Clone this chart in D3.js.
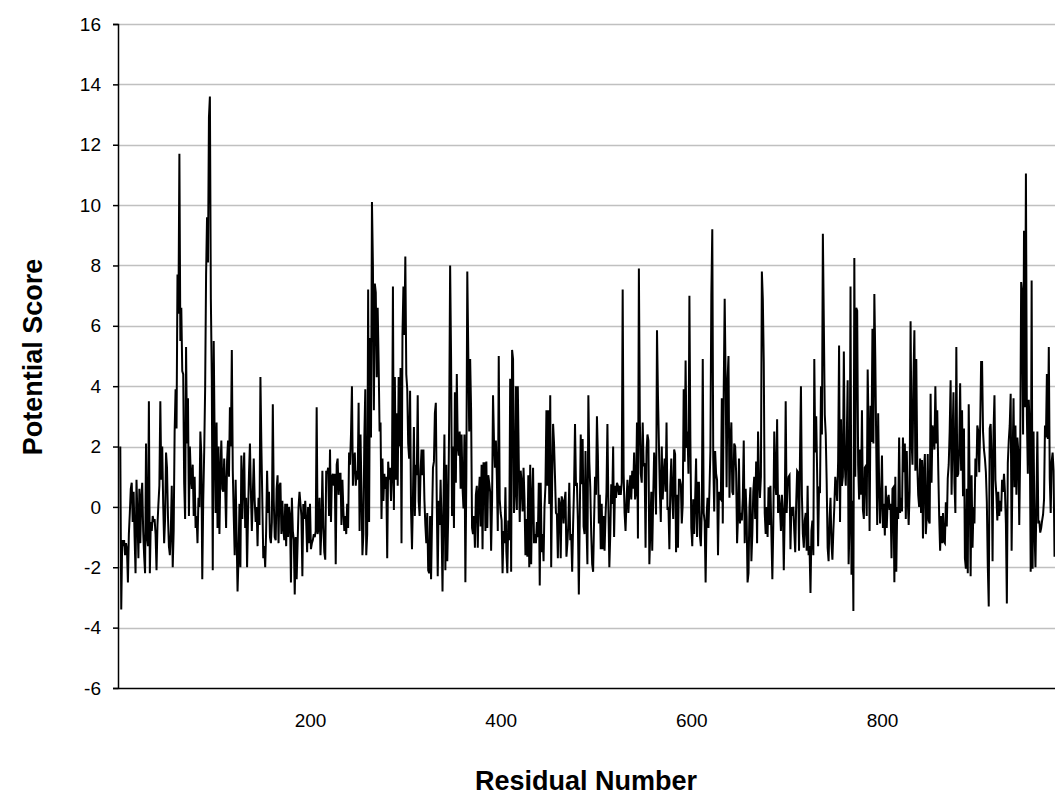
<!DOCTYPE html>
<html><head><meta charset="utf-8">
<script src="https://cdn.jsdelivr.net/npm/d3@7"></script>
<style>
body{margin:0;background:#fff;}
text{font-family:"Liberation Sans",Arial,sans-serif;fill:#000;}
</style>
</head><body>
<svg id="chart" width="1055" height="795"></svg>
<script>
// Potential score per residue, residues numbered from 1
const scores = [
2.0,-3.4,-1.1,-1.3,-1.1,-1.6,-1.2,-1.4,-2.5,-0.9,-0.2,0.6,0.8,-0.5,0.5,-1.0,-2.2,0.9,-0.3,-1.7,
0.6,-1.2,0.3,0.8,-0.8,-1.6,-2.2,2.1,-1.0,-1.3,3.5,-2.2,-0.5,-0.8,-0.3,-0.5,-0.4,-0.9,-2.1,-0.6,
0.1,0.7,3.5,0.9,2.0,0.1,-1.2,-0.4,1.8,1.3,-0.3,-1.3,-1.6,-0.8,0.7,-2.0,-0.8,2.5,3.9,2.6,
7.7,6.4,11.7,5.5,6.6,4.5,4.4,0.8,-0.4,5.3,2.1,3.6,-0.3,2.0,1.0,0.6,1.4,-0.3,1.0,
-0.7,-0.3,-1.2,0.3,0.0,2.5,1.7,-2.4,0.2,1.8,3.9,7.7,9.6,8.1,12.9,13.6,6.9,4.2,-2.1,5.5,
2.1,-0.2,2.8,-0.7,2.0,-0.9,1.2,2.2,0.6,0.5,1.6,0.7,-0.7,1.5,2.2,1.0,3.3,2.0,5.2,1.2,
-0.3,-1.6,0.9,-0.9,-2.8,-1.7,0.1,-2.0,1.7,-0.4,0.9,1.8,-0.7,0.3,-2.0,-0.3,1.1,2.1,0.5,-0.8,
0.4,1.6,0.2,-0.5,0.0,-1.3,0.3,-0.6,4.3,2.0,0.2,-1.7,-1.3,-2.0,-0.8,1.2,-0.2,0.5,-1.0,-1.2,
-0.5,3.4,0.2,-1.0,
-1.1,0.6,1.05,-1.2,0.7,0.8,-0.9,0.2,-0.7,-1.1,0.1,-1.3,0.1,-1.0,0.0,-0.3,-2.5,0.3,-0.8,-1.1,
-2.9,-1.0,-2.4,-1.2,0.0,0.5,0.1,-0.3,-2.3,0.1,-0.4,0.2,-0.5,-1.5,0.0,-1.2,0.1,-1.4,-1.2,-1.1,
-0.9,-1.0,-0.8,3.3,-0.9,-0.7,0.3,-1.6,-0.7,1.2,-0.6,-1.5,-1.75,1.2,1.1,1.3,-0.3,1.9,-0.5,1.0,
1.1,0.7,1.1,-1.9,1.4,1.6,0.4,1.1,1.1,-0.6,0.9,-0.1,-0.8,-0.3,-0.9,0.1,-0.7,1.8,1.4,2.4,
4.0,0.7,1.5,1.8,
0.7,1.2,0.9,3.45,-0.8,2.4,0.5,-1.6,-0.9,2.3,3.9,-1.6,-0.9,7.2,-0.5,5.6,2.3,10.1,8.0,3.2,
7.4,7.1,4.3,6.6,4.8,2.5,2.8,-0.4,1.6,0.2,1.1,0.6,1.0,-1.7,1.5,0.9,1.3,0.2,1.0,7.3,
-0.1,4.3,0.9,3.1,0.7,4.3,2.0,4.6,-1.2,5.7,7.3,5.7,8.3,4.4,3.9,2.1,1.6,3.85,-0.1,-1.4,
0.3,2.65,-0.3,1.4,1.05,3.7,0.2,-0.3,1.2,1.9,1.05,1.9,0.25,-0.6,-1.2,-0.2,-2.1,-2.2,-0.3,-2.4,
-0.5,1.3,1.5,3.1,
3.45,0.1,-2.3,0.2,-0.6,0.9,-0.6,-2.8,0.0,2.4,-2.1,1.4,-1.8,-0.3,2.9,8.0,4.9,-0.3,2.0,-0.7,
3.8,0.8,4.4,2.0,1.7,2.5,0.6,2.4,0.65,-0.05,2.4,-2.5,1.0,7.8,5.2,2.5,4.9,3.2,-0.7,-0.9,
-0.3,-1.35,0.4,0.7,-1.35,0.4,1.0,-0.65,1.4,-1.4,1.45,1.45,-0.8,1.5,-0.7,1.05,0.8,0.5,-1.45,0.2,
3.7,2.2,1.3,2.2,1.0,-0.8,5.0,0.25,-0.2,-0.45,-2.2,-0.8,-1.2,0.65,-1.5,-2.2,-0.45,-1.1,4.25,-2.15,
5.2,4.9,-0.2,0.5,
4.0,-0.1,4.0,1.5,-0.5,1.2,0.8,-0.15,1.3,0.25,-1.6,-0.4,-1.65,1.05,-2.0,1.4,-1.9,0.25,1.3,-1.2,
-0.9,-1.2,-0.5,-1.0,0.8,-2.6,0.8,-1.5,-0.9,-1.8,0.0,0.7,3.2,0.7,3.2,0.1,3.7,-2.0,0.8,2.75,
2.1,1.0,-0.2,-0.25,-1.7,0.3,0.1,-1.7,0.35,0.2,-0.55,0.2,0.5,-1.65,-1.2,-0.55,0.8,-1.1,-0.9,-2.15,
-0.6,0.65,2.75,0.7,0.8,-0.45,-2.9,-0.3,2.4,0.75,2.25,-0.65,-0.9,1.85,-0.55,-1.9,3.7,1.5,0.65,-0.9,
-1.9,-2.15,-0.45,1.0,
0.4,3.0,1.7,-0.55,0.4,-1.4,0.1,-1.4,-0.3,-1.45,-0.3,0.5,2.75,0.1,-2.0,-0.9,0.75,0.1,2.0,-1.0,
0.7,0.3,0.8,0.7,0.4,0.7,0.4,0.8,7.2,1.1,-0.2,-0.8,0.2,0.9,-0.2,0.5,1.05,0.25,1.2,0.6,
1.8,0.25,0.5,2.8,-1.05,7.9,2.9,1.1,0.8,2.8,1.35,1.45,-1.35,1.85,2.4,2.2,-1.9,-0.8,0.5,-1.45,
0.25,1.8,1.1,-0.25,5.85,3.7,2.1,0.5,-0.5,2.0,0.25,1.05,1.6,0.5,2.8,-0.1,0.0,-1.4,0.7,1.6,
0.3,-0.4,1.9,
1.75,-1.5,0.4,-1.35,0.9,0.9,0.75,-0.55,0.1,3.9,1.5,4.85,1.95,2.5,1.1,7.0,2.3,-0.7,-1.3,0.25,
-0.9,0.25,1.6,-1.0,0.8,0.8,-0.95,-1.3,-0.1,4.9,-0.2,-0.5,-2.5,-0.3,0.3,-0.7,0.5,1.85,7.0,9.2,
1.6,-0.15,1.85,1.1,0.9,-1.6,0.5,0.3,0.25,3.6,-0.55,3.9,6.9,4.2,0.65,4.2,5.0,0.3,2.1,2.8,
0.5,0.4,2.1,2.0,1.15,-1.2,-0.3,1.6,-0.55,-0.2,-0.45,0.3,2.2,-1.2,0.6,-0.3,-2.5,-2.2,0.0,0.65,
-1.8,-0.9,0.5,1.0,
-0.4,1.5,-1.2,2.5,1.0,0.3,1.0,7.8,6.9,4.8,-0.2,-0.9,0.0,-1.0,0.65,-0.6,0.7,-0.9,-2.4,-0.6,
2.5,0.9,0.4,2.9,-0.2,0.4,-0.05,-0.8,0.4,-0.1,-2.1,-0.15,3.5,-0.2,0.7,1.0,1.05,-1.4,0.0,-0.3,
0.0,-0.8,-1.5,0.1,1.2,1.15,-1.45,1.7,4.0,0.4,-0.9,-1.35,-0.45,-0.2,-1.45,0.7,-1.6,-1.3,-2.85,-0.8,
-0.45,-1.6,4.9,1.8,3.0,1.1,-1.3,0.6,0.55,4.0,2.4,9.05,6.1,3.05,2.4,0.8,-1.35,-1.8,-0.4,0.3,
-1.2,-1.75,-0.8,0.0,
1.0,0.65,0.2,1.5,5.35,-0.5,2.9,0.7,1.0,5.15,1.4,0.7,2.1,4.2,-1.9,-0.55,7.3,-2.25,0.2,-3.45,
8.25,1.0,6.6,6.5,1.4,0.25,1.9,0.4,3.2,-0.1,-0.4,1.3,1.35,-0.3,4.55,2.5,-0.8,3.35,2.15,5.9,
2.1,7.05,4.9,2.0,-0.6,3.1,0.8,-0.55,0.25,1.7,-0.7,0.1,-0.95,0.7,-0.7,0.25,0.4,-0.1,0.1,-1.7,
0.6,0.65,-2.5,1.0,-2.15,0.0,-0.4,2.3,-0.2,0.3,-0.15,2.3,1.15,2.1,-0.4,1.85,0.25,-0.6,0.5,6.15,
2.25,1.4,4.2,
5.85,1.2,4.9,1.45,0.4,0.0,1.6,-0.2,1.55,-1.05,1.2,1.75,-0.9,-0.3,1.75,-0.45,-0.55,3.75,0.8,2.7,
2.4,1.9,4.0,2.1,3.2,1.3,-0.3,-1.45,-0.3,-1.2,-0.2,-1.15,-1.2,0.15,-0.65,0.95,1.4,2.5,4.2,0.4,
2.2,3.8,0.8,-0.2,5.3,1.0,1.1,1.95,4.1,1.2,3.2,0.35,2.6,-1.7,-2.05,0.6,-2.2,3.4,0.6,-2.3,
1.05,-1.35,0.0,-0.55,1.6,1.0,2.7,2.5,1.15,2.65,4.8,4.8,2.5,1.9,1.6,1.15,0.15,-1.95,-3.3,2.6,
2.75,1.6,-1.8,2.5,
3.7,0.9,0.4,-0.45,0.5,-0.3,0.2,-0.15,0.9,0.5,1.1,0.5,-0.55,-3.2,1.45,2.2,2.7,3.75,-1.45,1.5,
3.6,0.65,2.7,0.4,2.3,1.85,-0.6,1.9,7.45,7.1,2.4,9.15,3.3,11.05,3.0,1.1,3.55,2.5,-2.15,7.5,
-2.05,2.5,-0.8,-2.0,0.15,2.5,-0.55,-0.45,-0.85,-0.7,-0.45,-0.25,0.25,2.7,2.3,4.4,2.25,5.3,0.95,-0.2,
1.5,1.8,1.2,-1.65
];
const firstResidue = 1;
const yTicks = [-6,-4,-2,0,2,4,6,8,10,12,14,16];
const xTicks = [200,400,600,800];
const xTitle = "Residual Number";
const yTitle = "Potential Score";

const svg = d3.select("#chart");
const plotL = 118, plotR = 1055, plotT = 24, plotB = 688;

const x = d3.scaleLinear().domain([-1.4, 981.5]).range([plotL, plotR]);
const y = d3.scaleLinear().domain([-6, 16]).range([plotB, plotT]);

svg.append("defs").append("clipPath").attr("id","plotclip")
  .append("rect").attr("x",plotL).attr("y",plotT-2).attr("width",plotR-plotL).attr("height",plotB-plotT+4);

// gridlines
svg.append("g").selectAll("line").data(yTicks.filter(t => t > -6)).join("line")
  .attr("x1", plotL).attr("x2", plotR)
  .attr("y1", d => Math.round(y(d)) + 0.5).attr("y2", d => Math.round(y(d)) + 0.5)
  .attr("stroke", "#c0c0c0").attr("stroke-width", 1.5);

// series line
const line = d3.line().x((d,i) => x(i + firstResidue)).y(d => y(d));
svg.append("path").datum(scores)
  .attr("clip-path","url(#plotclip)")
  .attr("d", line)
  .attr("fill","none").attr("stroke","#000").attr("stroke-width",2)
  .attr("stroke-linejoin","miter");

// y axis
const yAxis = d3.axisLeft(y).tickValues(yTicks).tickSize(5).tickPadding(12)
  .tickFormat(d => String(d));
const gy = svg.append("g").attr("transform",`translate(${plotL},0)`).call(yAxis);
gy.select(".domain").attr("stroke","#000").attr("stroke-width",1.5);
gy.selectAll(".tick line").attr("stroke","#000").attr("stroke-width",1.5);
gy.selectAll(".tick text").attr("font-size",19).attr("font-family","Liberation Sans, Arial, sans-serif");

// x axis
const xAxis = d3.axisBottom(x).tickValues(xTicks).tickSize(0).tickPadding(26).tickFormat(d => String(d));
const gx = svg.append("g").attr("transform",`translate(0,${plotB})`).call(xAxis);
gx.select(".domain").attr("stroke","#000").attr("stroke-width",1.5);
gx.selectAll(".tick text").attr("font-size",19).attr("font-family","Liberation Sans, Arial, sans-serif");

// titles
svg.append("text").attr("x", 586).attr("y", 790).attr("text-anchor","middle")
  .attr("font-size",27).attr("font-weight","bold").text(xTitle);
svg.append("text").attr("transform","translate(42,357) rotate(-90)").attr("text-anchor","middle")
  .attr("font-size",27).attr("font-weight","bold").text(yTitle);
</script>
</body></html>
